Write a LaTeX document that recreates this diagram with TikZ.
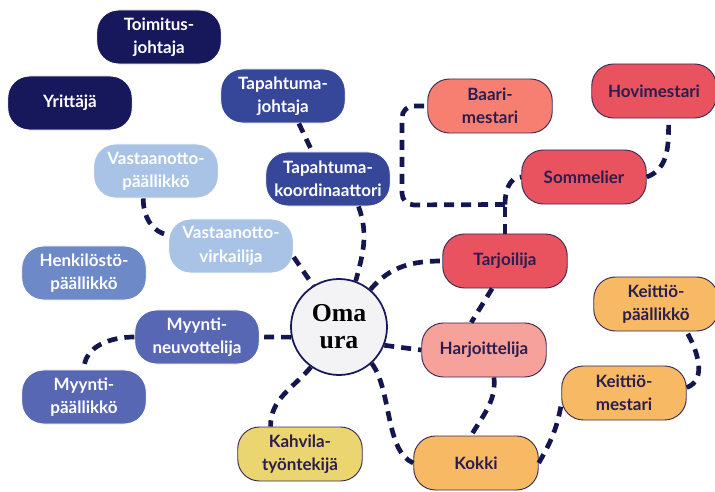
\documentclass[tikz,border=0pt]{standalone}
\usepackage{fontspec}
\setmainfont{Lato}
\newfontfamily\uraserif{Liberation Serif}
\usepackage{tikz}
\usetikzlibrary{positioning}

\definecolor{navydark}{HTML}{17175C}
\definecolor{bluemid}{HTML}{36479A}
\definecolor{bluelight}{HTML}{A9C3E6}
\definecolor{bluehenk}{HTML}{6E89C8}
\definecolor{bluemyynti}{HTML}{5867B3}
\definecolor{redjob}{HTML}{E9535F}
\definecolor{salmonjob}{HTML}{F77F72}
\definecolor{pinkjob}{HTML}{F7A19B}
\definecolor{orangejob}{HTML}{F7B963}
\definecolor{yellowjob}{HTML}{EBD571}
\definecolor{warmtext}{HTML}{2B1D4D}
\definecolor{edgecol}{HTML}{3A2A55}
\definecolor{linkcol}{HTML}{16164E}
\definecolor{uraback}{HTML}{F3F3F5}

\begin{document}
\begin{tikzpicture}[
    x=0.03cm, y=0.03cm,
    job/.style={rectangle, rounded corners=0.65cm, minimum width=3.72cm, minimum height=1.62cm, text width=3.5cm, text centered, font=\fontsize{14.5}{20}\selectfont\bfseries, line width=0.8pt},
    coldjob/.style={job, fill=#1, draw=white, text=white},
    warmjob/.style={job, fill=#1, draw=edgecol, text=warmtext},
    center/.style={circle, draw=navydark, fill=uraback, line width=1.5pt, minimum size=2.88cm, align=center, font=\uraserif\fontsize{22}{23}\selectfont\bfseries},
    link/.style={draw=linkcol, line width=4pt, dash pattern=on 8.5pt off 6pt}
]
    \useasboundingbox (0,0) rectangle (715,491);

    % Center
    \node[center] (ura) at (339,164) {Oma\\ura};

    % Management
    \node[coldjob=navydark] (toim) at (159,454) {Toimitus-\\johtaja};
    \node[coldjob=navydark] (yrit) at (70,388) {Yrittäjä};

    % Events
    \node[coldjob=bluemid] (tjoht) at (283,395) {Tapahtuma-\\johtaja};
    \node[coldjob=bluemid] (tkoord) at (328,312) {Tapahtuma-\\koordinaattori};

    % Reception
    \node[coldjob=bluelight] (vpaal) at (156,320) {Vastaanotto-\\päällikkö};
    \node[coldjob=bluelight] (vvirk) at (231,245) {Vastaanotto-\\virkailija};

    % Staff and sales
    \node[coldjob=bluehenk] (henk) at (84,218) {Henkilöstö-\\päällikkö};
    \node[coldjob=bluemyynti] (mneuv) at (197,154) {Myynti-\\neuvottelija};
    \node[coldjob=bluemyynti] (mpaal) at (84,94) {Myynti-\\päällikkö};

    % Cafe
    \node[warmjob=yellowjob] (kahv) at (300,37) {Kahvila-\\työntekijä};

    % Service
    \node[warmjob=salmonjob] (baari) at (490,385) {Baari-\\mestari};
    \node[warmjob=redjob] (hovi) at (654,400) {Hovimestari};
    \node[warmjob=redjob] (somm) at (584,314) {Sommelier};
    \node[warmjob=redjob] (tarj) at (505,230) {Tarjoilija};
    \node[warmjob=pinkjob] (harj) at (484,141) {Harjoittelija};

    % Kitchen
    \node[warmjob=orangejob] (kpaal) at (656,187) {Keittiö-\\päällikkö};
    \node[warmjob=orangejob] (kmest) at (624,98) {Keittiö-\\mestari};
    \node[warmjob=orangejob] (kokki) at (476,28) {Kokki};

    % Links, left side
    \draw[link] (tjoht.-60) -- (tkoord.120);
    \draw[link] (tkoord.-42) to[out=-70, in=75] (ura.70);
    \draw[link] (vpaal.-115) to[out=-90, in=170] (vvirk.170);
    \draw[link] (vvirk.-10) -- (ura.122);
    \draw[link] (ura.192) -- (mneuv.east);
    \draw[link] (mneuv.west) to[out=180, in=90] (mpaal.north);
    \draw[link] (ura.-125) to[out=-130, in=90] (kahv.137);

    % Links, service
    \coordinate (fork) at (tarj.north |- somm.south);
    \coordinate (bend) at (402,286);
    \draw[link] (ura.50) to[out=50, in=180] (tarj.west);
    \draw[link] (tarj.north) -- (fork);
    \draw[link, rounded corners=10pt] (fork) -- (bend) |- (baari.west);
    \draw[link] (fork) to[out=90, in=180] (somm.west);
    \draw[link] (somm.east) to[out=20, in=-90] (hovi.-62);
    \draw[link] (tarj.-115) -- (harj.115);
    \draw[link] (ura.-22) -- (harj.west);

    % Links, kitchen
    \draw[link] (harj.-70) to[out=-85, in=60] (kokki.100);
    \draw[link] (ura.-48) .. controls (392,100) and (385,40) .. (kokki.west);
    \draw[link] (kokki.east) to[out=60, in=-100] (kmest.-170);
    \draw[link] (kmest.5) to[out=20, in=-60] (kpaal.-42);
\end{tikzpicture}
\end{document}
